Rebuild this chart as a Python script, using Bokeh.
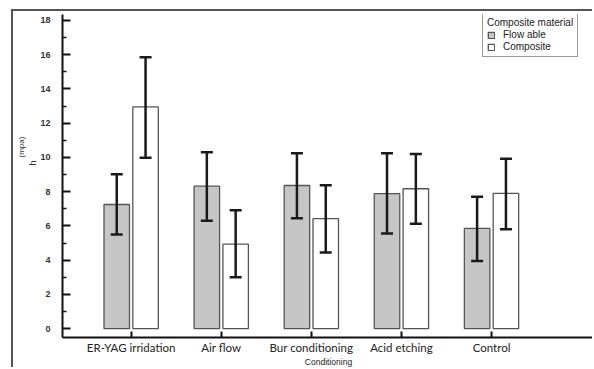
from bokeh.plotting import figure
from bokeh.models import (ColumnDataSource, Whisker, TeeHead, FixedTicker, Legend,
                          LegendItem, Title, Range1d)
from bokeh.embed import file_html
from bokeh.resources import INLINE

categories = ["ER-YAG irridation", "Air flow", "Bur conditioning", "Acid etching", "Control"]
series_names = ["Flow able", "Composite"]
flowable = [7.25, 8.32, 8.36, 7.88, 5.85]
flowable_lo = [5.5, 6.3, 6.45, 5.55, 3.95]
flowable_hi = [9.02, 10.3, 10.25, 10.25, 7.7]
composite = [12.95, 4.93, 6.42, 8.17, 7.9]
composite_lo = [9.98, 3.0, 4.44, 6.12, 5.8]
composite_hi = [15.85, 6.92, 8.38, 10.2, 9.92]
y_ticks = list(range(0, 19, 2))
y_minor = list(range(1, 18, 2))

xs = list(range(len(categories)))
off = 0.16
w = 0.283
src_f = ColumnDataSource(dict(x=[i - off for i in xs], top=flowable, lo=flowable_lo, hi=flowable_hi))
src_c = ColumnDataSource(dict(x=[i + off for i in xs], top=composite, lo=composite_lo, hi=composite_hi))

p = figure(width=581, height=358, output_backend="svg", toolbar_location=None,
           x_range=Range1d(-0.762, 5.143), y_range=Range1d(-0.52, 18.35),
           min_border_left=49, min_border_right=0, min_border_top=3, min_border_bottom=31)
p.styles = {"border-top": "2px solid #555555", "border-left": "2px solid #555555",
            "margin-top": "9px", "margin-left": "11px"}
p.outline_line_color = None
p.grid.visible = False

rf = p.vbar(x="x", top="top", width=w, bottom=0, source=src_f,
            fill_color="#c6c6c6", line_color="#555555", line_width=1.3)
rc = p.vbar(x="x", top="top", width=w, bottom=0, source=src_c,
            fill_color="white", line_color="#555555", line_width=1.3)

for src in (src_f, src_c):
    wk = Whisker(base="x", upper="hi", lower="lo", source=src, level="overlay",
                 line_color="#1a1a1a", line_width=2.5,
                 upper_head=TeeHead(size=12, line_width=2.5, line_color="#1a1a1a"),
                 lower_head=TeeHead(size=12, line_width=2.5, line_color="#1a1a1a"))
    p.add_layout(wk)

# y axis
p.yaxis.ticker = FixedTicker(ticks=y_ticks, minor_ticks=y_minor)
p.yaxis.axis_line_width = 2
p.yaxis.axis_line_color = "#111111"
p.yaxis.major_tick_in = 8
p.yaxis.major_tick_out = 0
p.yaxis.minor_tick_in = 4
p.yaxis.minor_tick_out = 0
p.yaxis.major_tick_line_width = 2
p.yaxis.minor_tick_line_width = 1.5
p.yaxis.major_tick_line_color = "#111111"
p.yaxis.minor_tick_line_color = "#111111"
p.yaxis.major_label_text_font = "Liberation Sans"
p.yaxis.major_label_text_font_size = "9px"
p.yaxis.major_label_text_font_style = "bold"
p.yaxis.major_label_text_color = "#333333"
p.yaxis.major_label_standoff = 12

# y label: h^(mpa) as two stacked side titles
p.add_layout(Title(text="h", align="left", offset=172, standoff=0,
                   text_font="Liberation Sans", text_font_size="9px",
                   text_font_style="normal", text_color="#333333"), "left")
p.add_layout(Title(text="(mpa)", align="left", offset=180, standoff=0,
                   text_font="Liberation Sans", text_font_size="8px",
                   text_font_style="normal", text_color="#333333"), "left")

# x axis
p.xaxis.ticker = FixedTicker(ticks=xs)
p.xaxis.major_label_overrides = {i: c for i, c in zip(xs, categories)}
p.xaxis.axis_line_width = 2
p.xaxis.axis_line_color = "#111111"
p.xaxis.major_tick_in = 6
p.xaxis.major_tick_out = 0
p.xaxis.major_tick_line_width = 2
p.xaxis.major_tick_line_color = "#111111"
p.xaxis.minor_tick_line_color = None
p.xaxis.major_label_text_font = "Lato"
p.xaxis.major_label_text_font_size = "11.5px"
p.xaxis.major_label_text_color = "#222222"
p.xaxis.major_label_standoff = 3
p.xaxis.axis_label = "Conditioning"
p.xaxis.axis_label_text_font = "Liberation Sans"
p.xaxis.axis_label_text_font_size = "8.5px"
p.xaxis.axis_label_text_font_style = "normal"
p.xaxis.axis_label_text_color = "#222222"
p.xaxis.axis_label_standoff = 0

legend = Legend(items=[LegendItem(label=series_names[0], renderers=[rf]),
                       LegendItem(label=series_names[1], renderers=[rc])],
                title="Composite material", location=(420, 280))
legend.title_text_font = "Liberation Sans"
legend.title_text_font_size = "10px"
legend.title_text_font_style = "normal"
legend.title_text_color = "#222222"
legend.title_standoff = 1
legend.label_text_font = "Liberation Sans"
legend.label_text_font_size = "10px"
legend.label_text_color = "#222222"
legend.label_height = 11
legend.glyph_height = 8
legend.glyph_width = 8
legend.spacing = 1
legend.padding = 4
legend.margin = 0
legend.border_line_color = "#333333"
legend.border_line_width = 1
legend.label_standoff = 8
p.add_layout(legend)

open("out.html", "w").write(file_html(p, INLINE))
